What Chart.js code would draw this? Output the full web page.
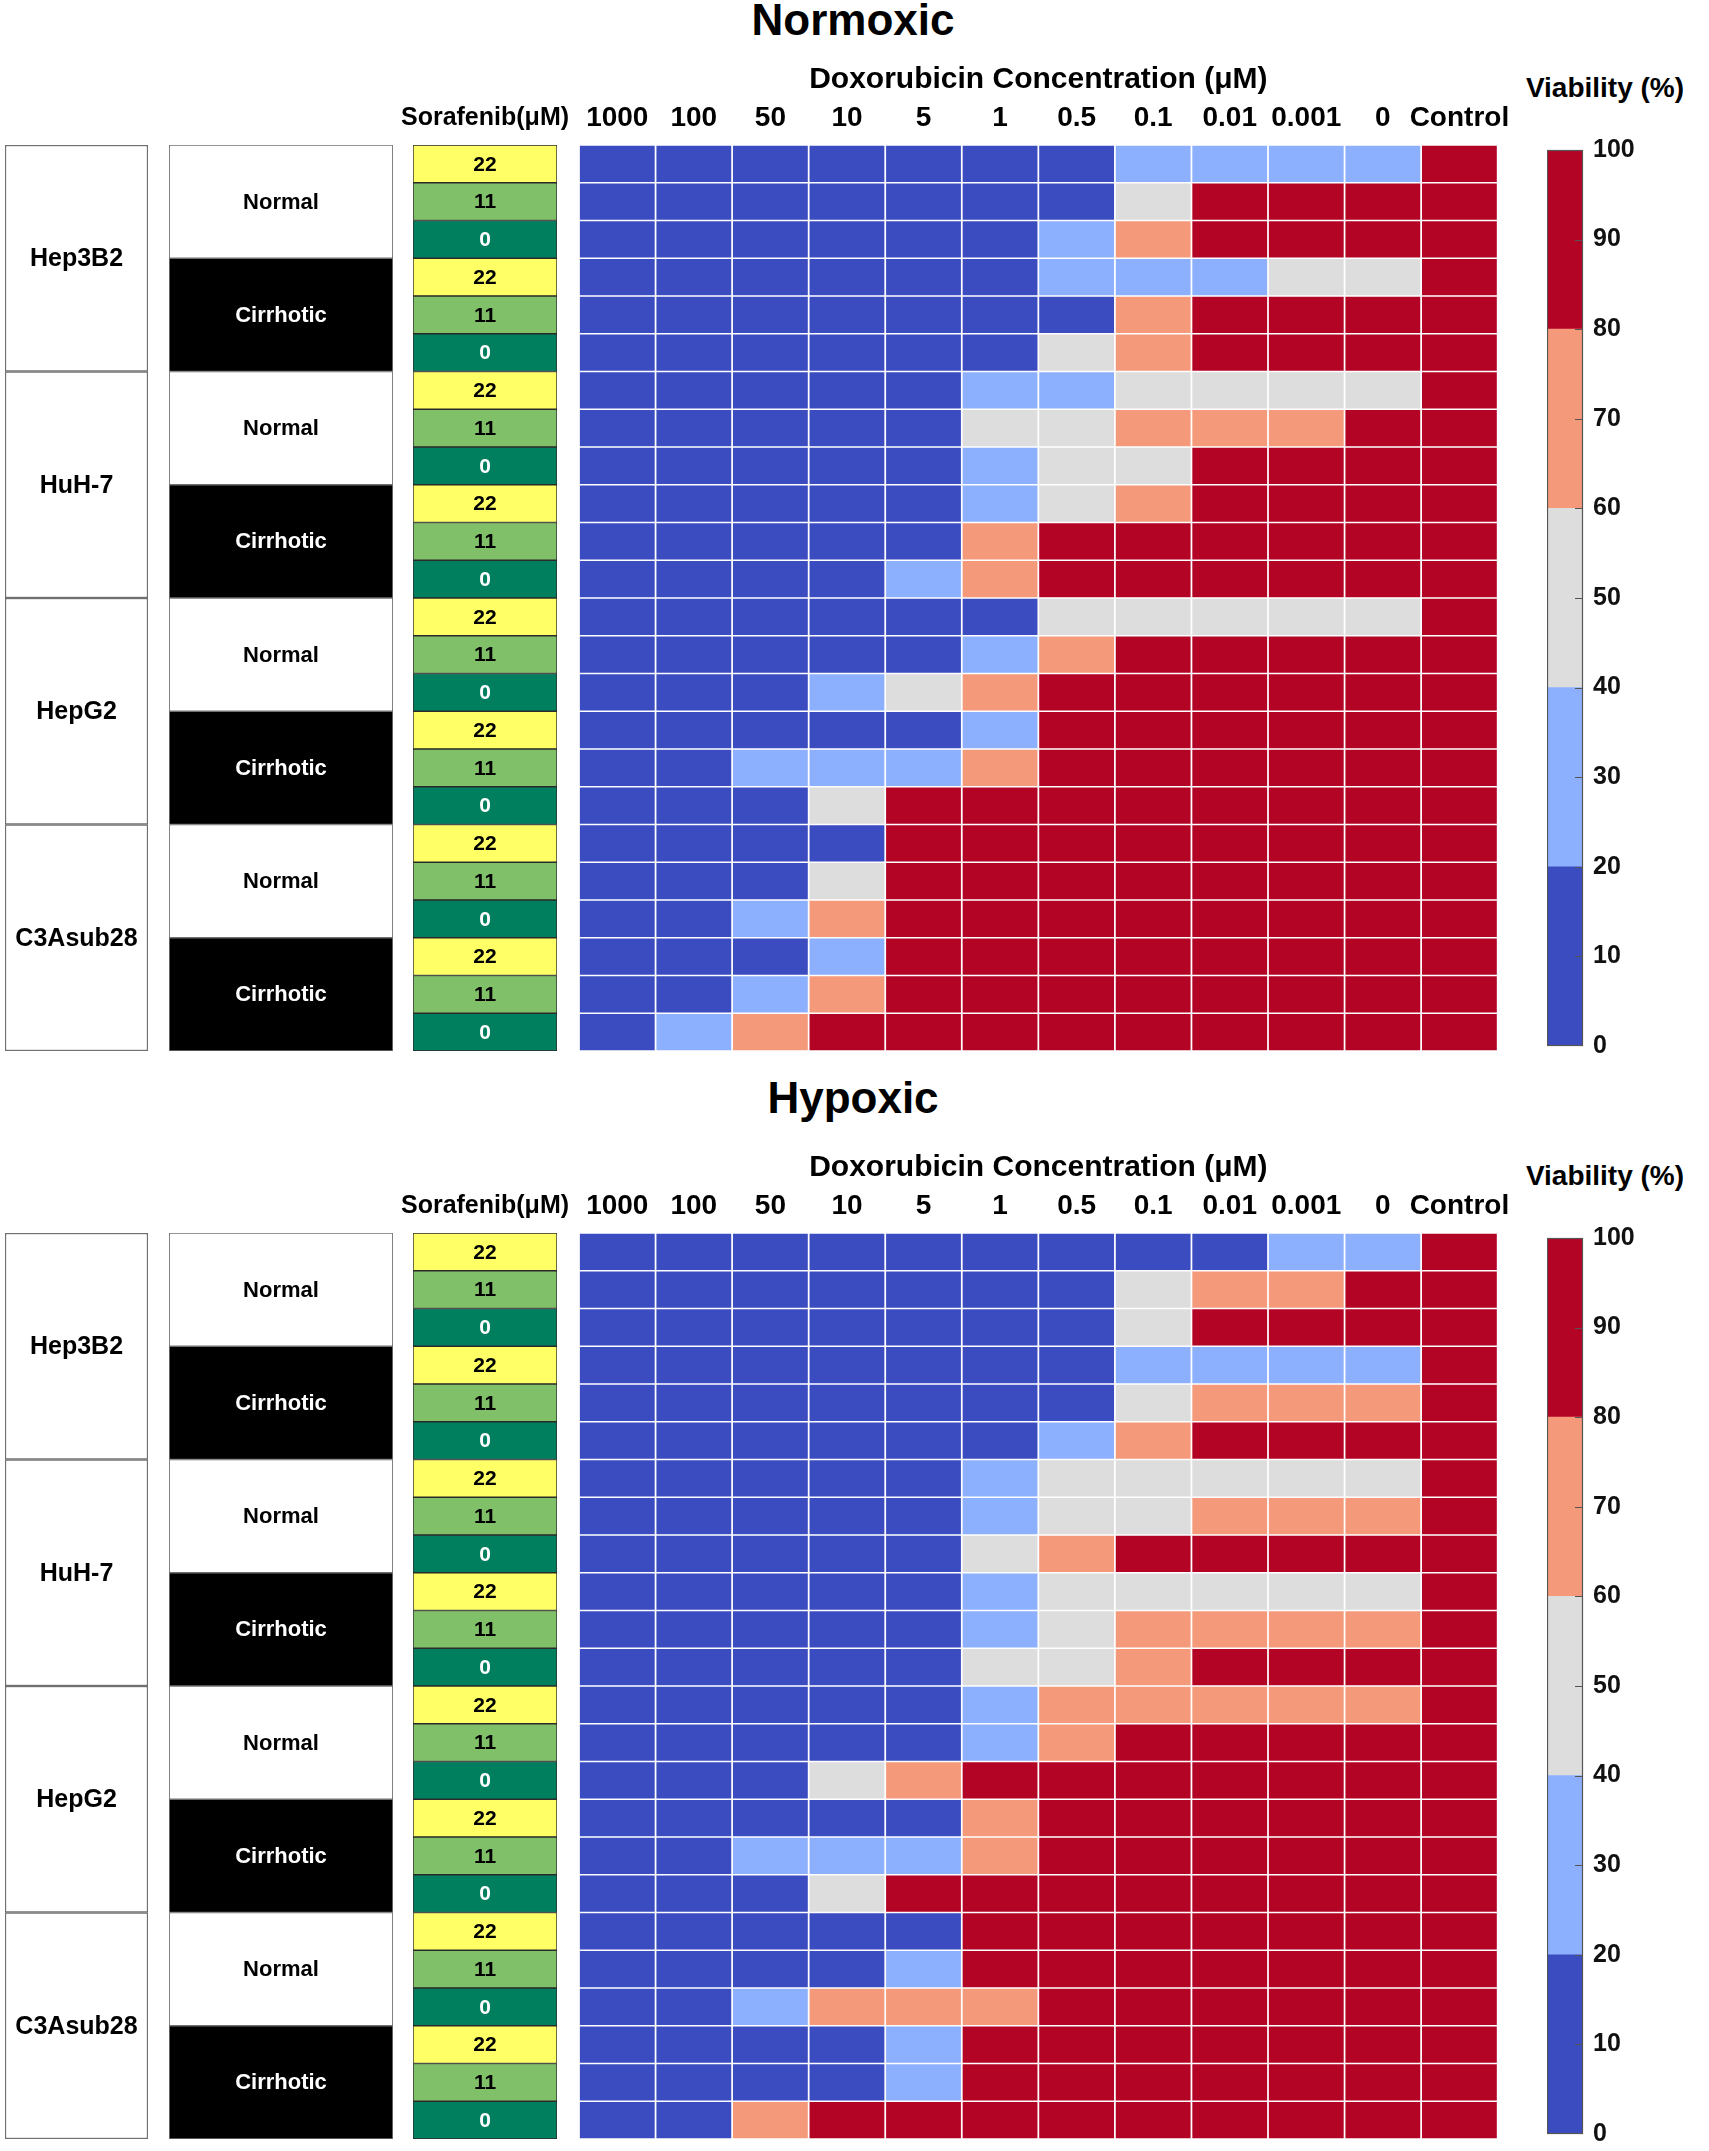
<!DOCTYPE html>
<html>
<head>
<meta charset="utf-8">
<title>Viability heatmap</title>
<script src="https://cdn.jsdelivr.net/npm/chart.js@4.4.1/dist/chart.umd.min.js"></script>
<style>
    body { margin: 0; background: #fff; font-family: "Liberation Sans", Arial, sans-serif; }
    #page { position: relative; width: 1709px; height: 2151px; overflow: hidden; }
    .panel { position: absolute; left: 0; width: 1709px; height: 1063px; }
    .panel canvas { position: absolute; }
    .label { position: absolute; transform: translate(-50%, -50%); white-space: nowrap; font-weight: bold; color: #000; }
    .panel-title { font-size: 44px; }
    .cbar-title { font-size: 28px; }
</style>
</head>
<body>
<div id="page"></div>
<script>
// ---- data ----
const cellLines = ['Hep3B2', 'HuH-7', 'HepG2', 'C3Asub28'];
const conditions = ['Normal', 'Cirrhotic'];
const sorafenibDoses = [22, 11, 0];
const doxLabels = ['1000', '100', '50', '10', '5', '1', '0.5', '0.1', '0.01', '0.001', '0', 'Control'];

// colour bins of the colour bar (viability %)
const binEdges = [0, 20, 40, 60, 80, 100];
const binColors = ['#3b4cc0', '#8db0fe', '#dddddd', '#f49a7b', '#b40426'];
const doseColors = { 22: '#ffff66', 11: '#80c068', 0: '#007f5f' };

// viability (%) per row: Normal 22/11/0, Cirrhotic 22/11/0; columns follow doxLabels
const normoxicHep3B2 = [
    [8, 8, 8, 8, 8, 8, 8, 30, 30, 30, 30, 100],
    [8, 8, 8, 8, 8, 8, 8, 50, 95, 95, 95, 100],
    [8, 8, 8, 8, 8, 8, 30, 70, 95, 95, 95, 100],
    [8, 8, 8, 8, 8, 8, 30, 30, 30, 50, 50, 100],
    [8, 8, 8, 8, 8, 8, 8, 70, 95, 95, 95, 100],
    [8, 8, 8, 8, 8, 8, 50, 70, 95, 95, 95, 100]
];
const normoxicHuH7 = [
    [8, 8, 8, 8, 8, 30, 30, 50, 50, 50, 50, 100],
    [8, 8, 8, 8, 8, 50, 50, 70, 70, 70, 95, 100],
    [8, 8, 8, 8, 8, 30, 50, 50, 95, 95, 95, 100],
    [8, 8, 8, 8, 8, 30, 50, 70, 95, 95, 95, 100],
    [8, 8, 8, 8, 8, 70, 95, 95, 95, 95, 95, 100],
    [8, 8, 8, 8, 30, 70, 95, 95, 95, 95, 95, 100]
];
const normoxicHepG2 = [
    [8, 8, 8, 8, 8, 8, 50, 50, 50, 50, 50, 100],
    [8, 8, 8, 8, 8, 30, 70, 95, 95, 95, 95, 100],
    [8, 8, 8, 30, 50, 70, 95, 95, 95, 95, 95, 100],
    [8, 8, 8, 8, 8, 30, 95, 95, 95, 95, 95, 100],
    [8, 8, 30, 30, 30, 70, 95, 95, 95, 95, 95, 100],
    [8, 8, 8, 50, 95, 95, 95, 95, 95, 95, 95, 100]
];
const normoxicC3A = [
    [8, 8, 8, 8, 95, 95, 95, 95, 95, 95, 95, 100],
    [8, 8, 8, 50, 95, 95, 95, 95, 95, 95, 95, 100],
    [8, 8, 30, 70, 95, 95, 95, 95, 95, 95, 95, 100],
    [8, 8, 8, 30, 95, 95, 95, 95, 95, 95, 95, 100],
    [8, 8, 30, 70, 95, 95, 95, 95, 95, 95, 95, 100],
    [8, 30, 70, 95, 95, 95, 95, 95, 95, 95, 95, 100]
];
const hypoxicHep3B2 = [
    [8, 8, 8, 8, 8, 8, 8, 8, 8, 30, 30, 100],
    [8, 8, 8, 8, 8, 8, 8, 50, 70, 70, 95, 100],
    [8, 8, 8, 8, 8, 8, 8, 50, 95, 95, 95, 100],
    [8, 8, 8, 8, 8, 8, 8, 30, 30, 30, 30, 100],
    [8, 8, 8, 8, 8, 8, 8, 50, 70, 70, 70, 100],
    [8, 8, 8, 8, 8, 8, 30, 70, 95, 95, 95, 100]
];
const hypoxicHuH7 = [
    [8, 8, 8, 8, 8, 30, 50, 50, 50, 50, 50, 100],
    [8, 8, 8, 8, 8, 30, 50, 50, 70, 70, 70, 100],
    [8, 8, 8, 8, 8, 50, 70, 95, 95, 95, 95, 100],
    [8, 8, 8, 8, 8, 30, 50, 50, 50, 50, 50, 100],
    [8, 8, 8, 8, 8, 30, 50, 70, 70, 70, 70, 100],
    [8, 8, 8, 8, 8, 50, 50, 70, 95, 95, 95, 100]
];
const hypoxicHepG2 = [
    [8, 8, 8, 8, 8, 30, 70, 70, 70, 70, 70, 100],
    [8, 8, 8, 8, 8, 30, 70, 95, 95, 95, 95, 100],
    [8, 8, 8, 50, 70, 95, 95, 95, 95, 95, 95, 100],
    [8, 8, 8, 8, 8, 70, 95, 95, 95, 95, 95, 100],
    [8, 8, 30, 30, 30, 70, 95, 95, 95, 95, 95, 100],
    [8, 8, 8, 50, 95, 95, 95, 95, 95, 95, 95, 100]
];
const hypoxicC3A = [
    [8, 8, 8, 8, 8, 95, 95, 95, 95, 95, 95, 100],
    [8, 8, 8, 8, 30, 95, 95, 95, 95, 95, 95, 100],
    [8, 8, 30, 70, 70, 70, 95, 95, 95, 95, 95, 100],
    [8, 8, 8, 8, 30, 95, 95, 95, 95, 95, 95, 100],
    [8, 8, 8, 8, 30, 95, 95, 95, 95, 95, 95, 100],
    [8, 8, 70, 95, 95, 95, 95, 95, 95, 95, 95, 100]
];

// ---- layout ----
const FONT = '"Liberation Sans", Arial, Helvetica, sans-serif';
const GRID_TOP = 145;
const GRID_H = 906;
const HEAD_H = 100;

Chart.defaults.font.family = FONT;
Chart.defaults.color = '#000';

function binColor(v) {
    const k = binEdges.filter(e => v >= e).length - 1;
    return binColors[Math.min(k, binColors.length - 1)];
}

// text centred in each bar of dataset 0
const boxText = {
    id: 'boxText',
    afterDatasetsDraw(chart, args, opts) {
        if (!opts.texts) return;
        const ctx = chart.ctx;
        const meta = chart.getDatasetMeta(0);
        ctx.save();
        ctx.font = opts.font;
        ctx.textAlign = 'center';
        ctx.textBaseline = 'middle';
        meta.data.forEach((bar, i) => {
            const p = bar.getProps(['x', 'y', 'base'], true);
            ctx.fillStyle = opts.colors[i];
            ctx.fillText(opts.texts[i], (p.x + p.base) / 2, p.y + 1);
        });
        ctx.restore();
    }
};

// thin frame + inner tick marks of the colour bar
const cbarFrame = {
    id: 'cbarFrame',
    afterDatasetsDraw(chart) {
        const ctx = chart.ctx;
        const a = chart.chartArea;
        const s = chart.scales.y;
        ctx.save();
        ctx.strokeStyle = '#555';
        ctx.lineWidth = 1.2;
        ctx.strokeRect(a.left + 0.5, a.top + 0.5, a.right - a.left - 1, a.bottom - a.top - 1);
        ctx.beginPath();
        s.ticks.forEach(t => {
            if (t.value <= s.min || t.value >= s.max) return;
            const y = Math.round(s.getPixelForValue(t.value)) + 0.5;
            ctx.moveTo(a.right - 8, y);
            ctx.lineTo(a.right, y);
        });
        ctx.stroke();
        ctx.restore();
    }
};

function columnOptions(text) {
    return {
        indexAxis: 'y',
        responsive: false,
        animation: false,
        layout: { padding: 0 },
        plugins: { legend: { display: false }, tooltip: { enabled: false }, boxText: text },
        scales: {
            x: { display: false, min: 0, max: 1, stacked: true },
            y: { display: false, stacked: true }
        }
    };
}

function addCanvas(panel, left, top, width, height) {
    const c = document.createElement('canvas');
    c.width = width;
    c.height = height;
    c.style.left = left + 'px';
    c.style.top = top + 'px';
    panel.appendChild(c);
    return c;
}

function addLabel(panel, cls, text, x, y) {
    const d = document.createElement('div');
    d.className = 'label ' + cls;
    d.textContent = text;
    d.style.left = x + 'px';
    d.style.top = y + 'px';
    panel.appendChild(d);
}

function topAxis(labels, fontSize, pad, title) {
    return {
        type: 'category',
        position: 'top',
        labels: labels,
        offset: true,
        grid: { display: false, drawTicks: false },
        border: { display: false },
        ticks: { autoSkip: false, maxRotation: 0, minRotation: 0, padding: pad, color: '#000',
                 font: { size: fontSize, weight: 'bold' } },
        title: title,
        afterFit: scale => { scale.height = HEAD_H; }
    };
}

function buildPanel(name, top, titleY, blocks) {
    const page = document.getElementById('page');
    const panel = document.createElement('div');
    panel.className = 'panel';
    panel.style.top = top + 'px';
    page.appendChild(panel);

    const rows = [].concat(...blocks);
    const condRows = [].concat(...cellLines.map(() => conditions));
    const doseRows = [].concat(...condRows.map(() => sorafenibDoses));
    const rowNames = doseRows.map((d, i) => cellLines[Math.floor(i / 6)] + ' ' + condRows[Math.floor(i / 3)] + ' ' + d);

    addLabel(panel, 'panel-title', name, 853, titleY);
    addLabel(panel, 'cbar-title', 'Viability (%)', 1605, 88);

    // cell line boxes
    new Chart(addCanvas(panel, 5, GRID_TOP, 143, GRID_H), {
        type: 'bar',
        data: {
            labels: cellLines,
            datasets: [{
                data: cellLines.map(() => 1),
                backgroundColor: '#fff',
                borderColor: '#707070',
                borderWidth: 1.5,
                borderSkipped: false,
                barPercentage: 1,
                categoryPercentage: 1
            }]
        },
        options: columnOptions({ texts: cellLines, colors: cellLines.map(() => '#000'), font: 'bold 25px ' + FONT }),
        plugins: [boxText]
    });

    // Normal / Cirrhotic boxes
    new Chart(addCanvas(panel, 169, GRID_TOP, 224, GRID_H), {
        type: 'bar',
        data: {
            labels: condRows,
            datasets: [{
                data: condRows.map(() => 1),
                backgroundColor: condRows.map(c => c === 'Normal' ? '#fff' : '#000'),
                borderColor: '#707070',
                borderWidth: 1.2,
                borderSkipped: false,
                barPercentage: 1,
                categoryPercentage: 1
            }]
        },
        options: columnOptions({ texts: condRows, colors: condRows.map(c => c === 'Normal' ? '#000' : '#fff'), font: 'bold 22px ' + FONT }),
        plugins: [boxText]
    });

    // sorafenib dose column (wide side padding so the header label fits)
    const sorafOpts = columnOptions({ texts: doseRows.map(String), colors: doseRows.map(d => d === 0 ? '#fff' : '#000'), font: 'bold 21px ' + FONT });
    sorafOpts.layout = { autoPadding: false, padding: { left: 60, right: 60, top: 0, bottom: 0 } };
    sorafOpts.scales.xTop = topAxis(['Sorafenib(\u03bcM)'], 25, 12, { display: false });
    new Chart(addCanvas(panel, 353, GRID_TOP - HEAD_H, 264, GRID_H + HEAD_H), {
        type: 'bar',
        data: {
            labels: rowNames,
            datasets: [{
                data: doseRows.map(() => 1),
                backgroundColor: doseRows.map(d => doseColors[d]),
                borderColor: '#2a2a2a',
                borderWidth: 1,
                borderSkipped: false,
                barPercentage: 1,
                categoryPercentage: 1
            }]
        },
        options: sorafOpts,
        plugins: [boxText]
    });

    // heat map: one stacked dataset per doxorubicin column
    const heatOpts = columnOptions({});
    heatOpts.layout = { autoPadding: false, padding: { left: 20, right: 20, top: 0, bottom: 0 } };
    heatOpts.scales.x.max = doxLabels.length;
    heatOpts.scales.xTop = topAxis(doxLabels, 28, 10, {
        display: true,
        text: 'Doxorubicin Concentration (\u03bcM)',
        color: '#000',
        font: { size: 30, weight: 'bold' },
        padding: { top: 17, bottom: 0 }
    });
    new Chart(addCanvas(panel, 559, GRID_TOP - HEAD_H, 961, GRID_H + HEAD_H), {
        type: 'bar',
        data: {
            labels: rowNames,
            datasets: doxLabels.map((lab, j) => ({
                label: lab,
                data: rows.map(() => 1),
                backgroundColor: rows.map(r => binColor(r[j])),
                borderColor: '#fff',
                borderWidth: 1.2,
                borderSkipped: false,
                barPercentage: 1,
                categoryPercentage: 1
            }))
        },
        options: heatOpts
    });

    // colour bar
    new Chart(addCanvas(panel, 1547, GRID_TOP - 20, 150, GRID_H + 40), {
        type: 'bar',
        data: {
            labels: ['Viability'],
            datasets: binColors.map((col, k) => ({
                data: [binEdges[k + 1] - binEdges[k]],
                backgroundColor: col,
                borderWidth: 0,
                barPercentage: 1,
                categoryPercentage: 1
            }))
        },
        options: {
            responsive: false,
            animation: false,
            layout: { autoPadding: false, padding: { top: 20, bottom: 20, left: 0, right: 0 } },
            plugins: { legend: { display: false }, tooltip: { enabled: false } },
            scales: {
                x: { display: false, stacked: true },
                y: {
                    position: 'right',
                    stacked: true,
                    min: binEdges[0],
                    max: binEdges[binEdges.length - 1],
                    grid: { display: false, drawTicks: false },
                    border: { display: false },
                    ticks: { stepSize: 10, padding: 10, color: '#111', font: { size: 25, weight: 'bold' } },
                    afterFit: scale => { scale.width = 114; }
                }
            }
        },
        plugins: [cbarFrame]
    });
}

buildPanel('Normoxic', 0, 20, [normoxicHep3B2, normoxicHuH7, normoxicHepG2, normoxicC3A]);
buildPanel('Hypoxic', 1088, 10, [hypoxicHep3B2, hypoxicHuH7, hypoxicHepG2, hypoxicC3A]);
</script>
</body>
</html>
